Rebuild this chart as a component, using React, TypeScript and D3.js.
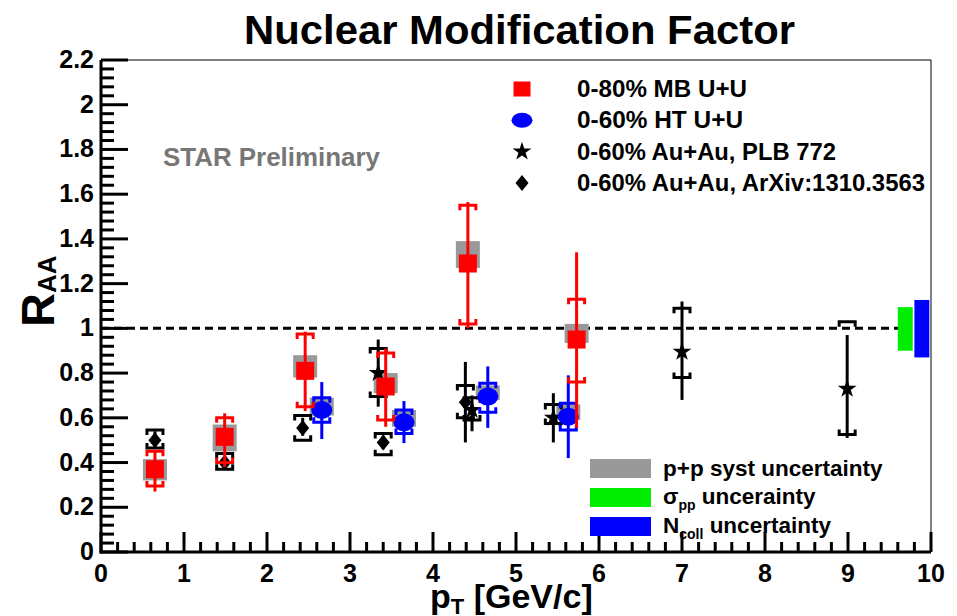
import React from 'react';
import * as d3 from 'd3';

const W = 957;
const H = 616;

// 0-80% MB U+U
const mbPt = [0.65, 1.49, 2.46, 3.43, 4.42, 5.73];
const mbRaa = [0.37, 0.515, 0.81, 0.74, 1.29, 0.95];
const mbStatLo = [0.27, 0.38, 0.63, 0.56, 1.0, 0.555];
const mbStatHi = [0.45, 0.62, 0.985, 0.91, 1.565, 1.34];
const mbSysLo = [0.295, 0.4, 0.65, 0.59, 1.02, 0.76];
const mbSysHi = [0.45, 0.6, 0.975, 0.89, 1.55, 1.13];
const mbPpLo = [0.32, 0.45, 0.78, 0.71, 1.27, 0.935];
const mbPpHi = [0.415, 0.57, 0.88, 0.8, 1.39, 1.02];

// 0-60% HT U+U
const htPt = [2.66, 3.65, 4.66, 5.63];
const htRaa = [0.635, 0.58, 0.695, 0.605];
const htStatLo = [0.505, 0.487, 0.555, 0.42];
const htStatHi = [0.76, 0.675, 0.83, 0.79];
const htSysLo = [0.58, 0.53, 0.625, 0.545];
const htSysHi = [0.69, 0.635, 0.755, 0.665];
const htPpLo = [0.61, 0.56, 0.68, 0.59];
const htPpHi = [0.69, 0.635, 0.745, 0.66];

// 0-60% Au+Au, PLB 772
const plbPt = [3.34, 4.47, 5.45, 7.0, 8.99];
const plbRaa = [0.8, 0.635, 0.6, 0.895, 0.73];
const plbStatLo = [0.65, 0.54, 0.49, 0.68, 0.51];
const plbStatHi = [0.95, 0.7, 0.71, 1.12, 0.97];
const plbSysLo = [0.695, 0.59, 0.575, 0.78, 0.525];
const plbSysHi = [0.91, 0.69, 0.66, 1.09, 1.03];

// 0-60% Au+Au, ArXiv:1310.3563
const arxPt = [0.65, 1.49, 2.43, 3.4, 4.39];
const arxRaa = [0.5, 0.4, 0.555, 0.49, 0.67];
const arxStatLo = [0.47, 0.38, 0.52, 0.46, 0.49];
const arxStatHi = [0.54, 0.43, 0.6, 0.52, 0.85];
const arxSysLo = [0.465, 0.37, 0.5, 0.435, 0.6];
const arxSysHi = [0.545, 0.44, 0.61, 0.53, 0.745];

// global normalisation boxes at the right edge
const sigmaPpBox = { x0: 9.6, x1: 9.78, lo: 0.9, hi: 1.095 };
const ncollBox = { x0: 9.8, x1: 9.98, lo: 0.87, hi: 1.127 };

const xTicks = [0, 1, 2, 3, 4, 5, 6, 7, 8, 9, 10];
const yTicks = [0, 0.2, 0.4, 0.6, 0.8, 1, 1.2, 1.4, 1.6, 1.8, 2, 2.2];
const yTickLabels = ['0', '0.2', '0.4', '0.6', '0.8', '1', '1.2', '1.4', '1.6', '1.8', '2', '2.2'];

const legendTop = [
  { label: '0-80% MB U+U', kind: 'square', width: 170 },
  { label: '0-60% HT U+U', kind: 'circle', width: 166 },
  { label: '0-60% Au+Au, PLB 772', kind: 'star', width: 259 },
  { label: '0-60% Au+Au, ArXiv:1310.3563', kind: 'diamond', width: 348 },
];

const FONT = "'Liberation Sans', Arial, Helvetica, sans-serif";
const RED = '#ff0000';
const BLUE = '#0000ff';
const GREEN = '#00ee00';
const GRAY = '#999999';

const x = d3.scaleLinear().domain([0, 10]).range([101, 931]);
const y = d3.scaleLinear().domain([0, 2.2]).range([552, 60]);

const starPath = d3.symbol(d3.symbolStar, 110)() as string;
const diamondPath = 'M0,-8L6.5,0L0,8L-6.5,0Z';

function Bracket({ cx, cy, dir, color }: { cx: number; cy: number; dir: number; color: string }) {
  const hw = 8;
  const leg = 5;
  return (
    <path
      d={`M${cx - hw},${cy + dir * leg}L${cx - hw},${cy}L${cx + hw},${cy}L${cx + hw},${cy + dir * leg}`}
      fill="none"
      stroke={color}
      strokeWidth={3}
    />
  );
}

function ErrorPoint({
  pt, statLo, statHi, sysLo, sysHi, color,
}: { pt: number; statLo: number; statHi: number; sysLo: number; sysHi: number; color: string }) {
  const cx = x(pt);
  return (
    <g>
      <line x1={cx} x2={cx} y1={y(statLo)} y2={y(statHi)} stroke={color} strokeWidth={3} />
      <Bracket cx={cx} cy={y(sysHi)} dir={1} color={color} />
      <Bracket cx={cx} cy={y(sysLo)} dir={-1} color={color} />
    </g>
  );
}

function Marker({ kind, cx, cy, legend }: { kind: string; cx: number; cy: number; legend?: boolean }) {
  if (kind === 'square') {
    const w = legend ? 17 : 18;
    const h = legend ? 15 : 18;
    return <rect x={cx - w / 2} y={cy - h / 2} width={w} height={h} fill={RED} />;
  }
  if (kind === 'circle') {
    return <ellipse cx={cx} cy={cy} rx={10.5} ry={legend ? 7.5 : 9} fill={BLUE} />;
  }
  if (kind === 'star') {
    return <path d={starPath} transform={`translate(${cx},${cy})`} fill="#000" />;
  }
  return <path d={diamondPath} transform={`translate(${cx},${cy})`} fill="#000" />;
}

export default function App() {
  const ppBoxHalf = 12;

  const minorY = d3.range(0, 2.2001, 0.04);
  const minorX = d3.range(0, 10.001, 0.2);

  return (
    <svg
      width={W}
      height={H}
      viewBox={`0 0 ${W} ${H}`}
      style={{ position: 'absolute', left: 0, top: 0, background: '#fff' }}
      fontFamily={FONT}
    >
      <rect x={0} y={0} width={W} height={H} fill="#fff" />

      {/* title */}
      <text x={244} y={44} fontSize={40} fontWeight="bold" fill="#000" textLength={551} lengthAdjust="spacingAndGlyphs">
        Nuclear Modification Factor
      </text>

      {/* frame */}
      <line x1={x(0)} x2={x(10)} y1={y(2.2)} y2={y(2.2)} stroke="#000" strokeWidth={1} />
      <line x1={x(10)} x2={x(10)} y1={y(2.2)} y2={y(0)} stroke="#000" strokeWidth={1} />

      {/* reference line at R_AA = 1 */}
      <line
        x1={x(0)}
        x2={x(9.62)}
        y1={y(1)}
        y2={y(1)}
        stroke="#000"
        strokeWidth={3}
        strokeDasharray="8 5"
      />

      {/* p+p systematic boxes */}
      {mbPt.map((p, i) => (
        <rect key={`mbpp${i}`} x={x(p) - ppBoxHalf} width={ppBoxHalf * 2} y={y(mbPpHi[i])} height={y(mbPpLo[i]) - y(mbPpHi[i])} fill={GRAY} />
      ))}
      {htPt.map((p, i) => (
        <rect key={`htpp${i}`} x={x(p) - ppBoxHalf} width={ppBoxHalf * 2} y={y(htPpHi[i])} height={y(htPpLo[i]) - y(htPpHi[i])} fill={GRAY} />
      ))}

      {/* normalisation uncertainties */}
      <rect x={x(sigmaPpBox.x0)} width={x(sigmaPpBox.x1) - x(sigmaPpBox.x0)} y={y(sigmaPpBox.hi)} height={y(sigmaPpBox.lo) - y(sigmaPpBox.hi)} fill={GREEN} />
      <rect x={x(ncollBox.x0)} width={x(ncollBox.x1) - x(ncollBox.x0)} y={y(ncollBox.hi)} height={y(ncollBox.lo) - y(ncollBox.hi)} fill={BLUE} />

      {/* Au+Au ArXiv:1310.3563 */}
      {arxPt.map((p, i) => (
        <g key={`arx${i}`}>
          <ErrorPoint pt={p} statLo={arxStatLo[i]} statHi={arxStatHi[i]} sysLo={arxSysLo[i]} sysHi={arxSysHi[i]} color="#000" />
          <Marker kind="diamond" cx={x(p)} cy={y(arxRaa[i])} />
        </g>
      ))}

      {/* Au+Au PLB 772 */}
      {plbPt.map((p, i) => (
        <g key={`plb${i}`}>
          <ErrorPoint pt={p} statLo={plbStatLo[i]} statHi={plbStatHi[i]} sysLo={plbSysLo[i]} sysHi={plbSysHi[i]} color="#000" />
          <Marker kind="star" cx={x(p)} cy={y(plbRaa[i])} />
        </g>
      ))}

      {/* HT U+U */}
      {htPt.map((p, i) => (
        <g key={`ht${i}`}>
          <ErrorPoint pt={p} statLo={htStatLo[i]} statHi={htStatHi[i]} sysLo={htSysLo[i]} sysHi={htSysHi[i]} color={BLUE} />
          <Marker kind="circle" cx={x(p)} cy={y(htRaa[i])} />
        </g>
      ))}

      {/* MB U+U */}
      {mbPt.map((p, i) => (
        <g key={`mb${i}`}>
          <ErrorPoint pt={p} statLo={mbStatLo[i]} statHi={mbStatHi[i]} sysLo={mbSysLo[i]} sysHi={mbSysHi[i]} color={RED} />
          <Marker kind="square" cx={x(p)} cy={y(mbRaa[i])} />
        </g>
      ))}

      {/* axes */}
      <line x1={x(0)} x2={x(0)} y1={y(0) + 1.5} y2={y(2.2)} stroke="#000" strokeWidth={3} />
      <line x1={x(0) - 1.5} x2={x(10)} y1={y(0)} y2={y(0)} stroke="#000" strokeWidth={3} />

      {minorY.map((v, i) => {
        const major = i % 5 === 0;
        return (
          <line key={`yt${i}`} x1={x(0)} x2={x(0) + (major ? 27 : 13)} y1={y(v)} y2={y(v)} stroke="#000" strokeWidth={3} />
        );
      })}
      {minorX.map((v, i) => {
        const major = i % 5 === 0;
        return (
          <line key={`xt${i}`} x1={x(v)} x2={x(v)} y1={y(0)} y2={y(0) - (major ? 20 : 10)} stroke="#000" strokeWidth={3} />
        );
      })}

      {yTicks.map((v, i) => (
        <text key={`yl${i}`} x={94} y={y(v) + 8} textAnchor="end" fontSize={25} fontWeight="bold" fill="#000">
          {yTickLabels[i]}
        </text>
      ))}
      {xTicks.map((v) => (
        <text key={`xl${v}`} x={x(v)} y={582} textAnchor="middle" fontSize={25} fontWeight="bold" fill="#000">
          {v}
        </text>
      ))}

      {/* axis titles */}
      <text x={430} y={608} fontSize={34} fontWeight="bold" fill="#000">
        p<tspan fontSize={22} dy={6}>T</tspan>
        <tspan dy={-6}> [GeV/c]</tspan>
      </text>
      <text transform="translate(54,327) rotate(-90)" fontSize={47} fontWeight="bold" fill="#000">
        R<tspan fontSize={26} dy={2}>AA</tspan>
      </text>

      {/* watermark */}
      <text x={163} y={166} fontSize={25} fontWeight="bold" fill="#777777" textLength={217} lengthAdjust="spacingAndGlyphs">
        STAR Preliminary
      </text>

      {/* marker legend */}
      {legendTop.map((e, i) => (
        <g key={`lg${i}`}>
          <Marker kind={e.kind} cx={522} cy={89 + i * 31.3} legend />
          <text x={577} y={89 + i * 31.3 + 8} fontSize={23} fontWeight="bold" fill="#000" textLength={e.width} lengthAdjust="spacingAndGlyphs">
            {e.label}
          </text>
        </g>
      ))}

      {/* uncertainty legend */}
      <rect x={590} y={459} width={61} height={19} fill={GRAY} />
      <text x={663} y={476} fontSize={22.5} fontWeight="bold" fill="#000">p+p syst uncertainty</text>
      <rect x={590} y={488} width={61} height={19} fill={GREEN} />
      <text x={663} y={504} fontSize={22.5} fontWeight="bold" fill="#000">
        σ<tspan fontSize={14} dy={6}>pp</tspan>
        <tspan dy={-6}> uncerainty</tspan>
      </text>
      <rect x={590} y={517} width={61} height={19} fill={BLUE} />
      <text x={663} y={533} fontSize={22.5} fontWeight="bold" fill="#000">
        N<tspan fontSize={14} dy={6}>coll</tspan>
        <tspan dy={-6}> uncertainty</tspan>
      </text>
    </svg>
  );
}
